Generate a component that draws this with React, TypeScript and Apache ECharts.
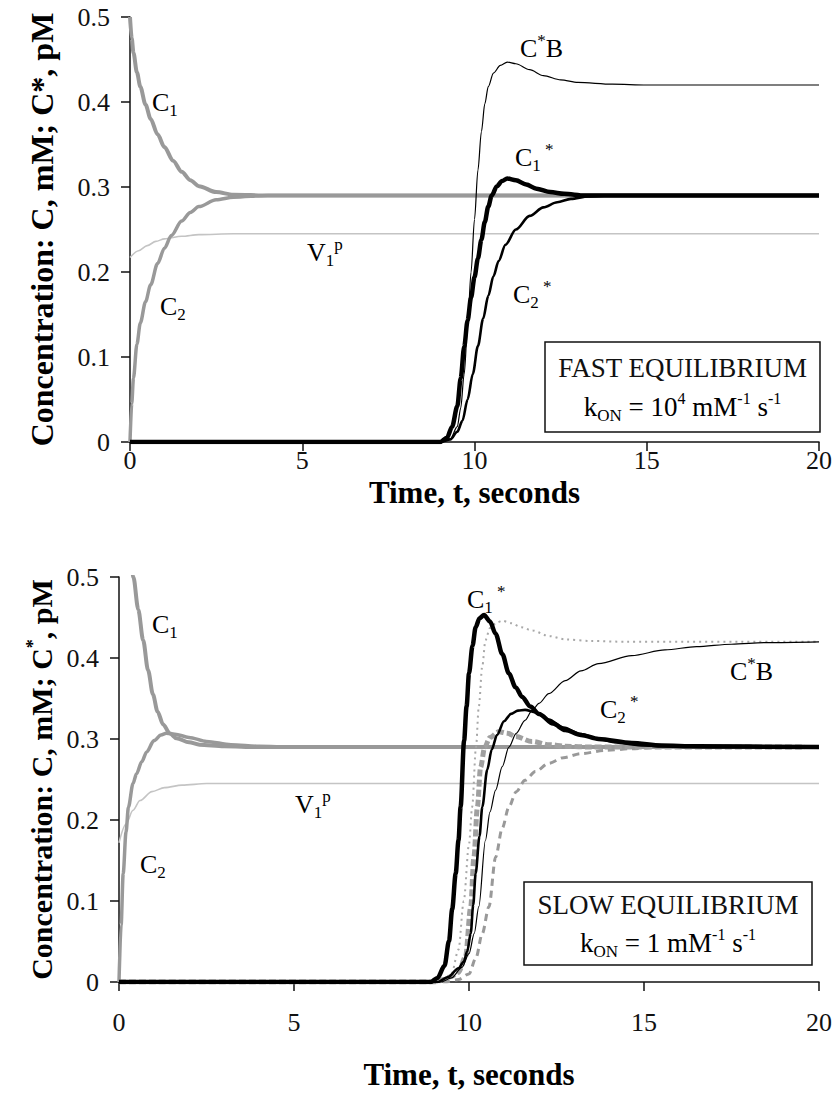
import React, { useEffect, useRef } from "react";
import * as echarts from "echarts";

const FONT = '"Liberation Serif", "Times New Roman", serif';

// ---------- Tick values ----------
const xTicks = { min: 0, max: 20, interval: 5 };
const yTicks = { min: 0, max: 0.5, interval: 0.1 };

// ---------- FAST EQUILIBRIUM (top) [t, value] ----------
const fastC1 = [[0,0.5],[0.05,0.475],[0.1,0.458],[0.2,0.435],[0.3,0.418],[0.45,0.397],[0.6,0.38],[0.8,0.362],[1.0,0.347],[1.25,0.331],[1.5,0.318],[1.75,0.308],[2.0,0.301],[2.5,0.294],[3,0.291],[4,0.29],[20,0.29]];
const fastC2 = [[0,0],[0.05,0.045],[0.1,0.075],[0.2,0.115],[0.3,0.14],[0.45,0.165],[0.6,0.185],[0.8,0.21],[1.0,0.228],[1.2,0.243],[1.5,0.26],[1.75,0.27],[2.0,0.277],[2.5,0.285],[3,0.288],[4,0.29],[20,0.29]];
const fastV1p = [[0,0.217],[0.25,0.225],[0.5,0.231],[0.75,0.236],[1,0.239],[1.5,0.242],[2,0.244],[3,0.245],[20,0.245]];
const fastC1Star = [[0,0],[9.0,0],[9.2,0.005],[9.35,0.018],[9.5,0.042],[9.6,0.075],[9.7,0.112],[9.8,0.143],[9.9,0.17],[10.0,0.194],[10.1,0.216],[10.2,0.238],[10.3,0.259],[10.4,0.277],[10.5,0.29],[10.65,0.301],[10.8,0.307],[10.95,0.31],[11.2,0.308],[11.5,0.303],[11.8,0.298],[12.2,0.294],[12.6,0.292],[13.2,0.29],[20,0.29]];
const fastC2Star = [[0,0],[9.0,0],[9.3,0.003],[9.5,0.012],[9.65,0.025],[9.8,0.05],[9.95,0.08],[10.1,0.113],[10.25,0.145],[10.4,0.172],[10.55,0.195],[10.7,0.213],[10.9,0.232],[11.2,0.25],[11.6,0.266],[12.0,0.276],[12.4,0.282],[12.8,0.286],[13.3,0.289],[14,0.29],[20,0.29]];
const fastCB = [[0,0],[9.0,0],[9.3,0.004],[9.5,0.018],[9.6,0.04],[9.7,0.08],[9.8,0.135],[9.9,0.2],[10.0,0.262],[10.1,0.32],[10.2,0.365],[10.3,0.398],[10.4,0.418],[10.55,0.434],[10.75,0.443],[10.95,0.447],[11.2,0.445],[11.6,0.438],[12.0,0.431],[12.5,0.426],[13.0,0.423],[14,0.421],[15,0.42],[20,0.42]];

// ---------- SLOW EQUILIBRIUM (bottom) [t, value] ----------
const slowC1 = [[0.2,0.63],[0.3,0.56],[0.41,0.5],[0.55,0.46],[0.69,0.422],[0.83,0.385],[0.97,0.355],[1.1,0.334],[1.26,0.318],[1.45,0.307],[1.64,0.301],[2.0,0.296],[2.3,0.293],[3,0.291],[4,0.29],[19.6,0.29]];
const slowC2 = [[0,0],[0.06,0.07],[0.12,0.134],[0.2,0.185],[0.27,0.216],[0.4,0.245],[0.5,0.257],[0.65,0.272],[0.79,0.284],[1.0,0.298],[1.2,0.305],[1.35,0.307],[1.6,0.306],[2.0,0.302],[2.5,0.297],[3.2,0.293],[4,0.291],[5,0.29],[19.6,0.29]];
const slowV1p = [[0,0.172],[0.2,0.195],[0.4,0.212],[0.6,0.224],[0.94,0.235],[1.3,0.24],[1.8,0.243],[2.5,0.245],[20,0.245]];
const slowC1Star = [[0,0],[8.9,0],[9.1,0.005],[9.3,0.02],[9.43,0.051],[9.52,0.09],[9.62,0.134],[9.7,0.175],[9.76,0.216],[9.86,0.298],[9.93,0.34],[10.0,0.381],[10.1,0.415],[10.19,0.438],[10.3,0.449],[10.43,0.453],[10.6,0.445],[10.76,0.43],[10.95,0.405],[11.14,0.381],[11.33,0.364],[11.52,0.352],[11.75,0.34],[12.0,0.331],[12.4,0.319],[12.75,0.311],[13.2,0.305],[13.7,0.3],[14.65,0.295],[15.5,0.292],[16.5,0.291],[20,0.29]];
const slowC2Star = [[0,0],[9.1,0],[9.4,0.006],[9.7,0.017],[9.85,0.025],[9.95,0.038],[10.05,0.06],[10.12,0.095],[10.19,0.134],[10.3,0.18],[10.38,0.216],[10.52,0.262],[10.65,0.287],[10.8,0.305],[11.0,0.322],[11.2,0.331],[11.4,0.335],[11.6,0.336],[11.9,0.333],[12.28,0.324],[12.7,0.314],[13.2,0.306],[13.7,0.3],[14.2,0.296],[15.0,0.292],[15.6,0.291],[17,0.29],[20,0.29]];
const slowCB = [[0,0],[9.2,0],[9.5,0.005],[9.8,0.018],[10.0,0.035],[10.15,0.06],[10.28,0.093],[10.47,0.175],[10.6,0.21],[10.76,0.237],[10.95,0.266],[11.14,0.29],[11.35,0.307],[11.6,0.323],[11.8,0.335],[12.0,0.344],[12.28,0.356],[12.75,0.372],[13.2,0.384],[13.7,0.393],[14.65,0.403],[15.6,0.41],[16.5,0.414],[17.5,0.417],[18.5,0.419],[20,0.42]];
// fast-equilibrium reference curves redrawn in grey on the slow panel
const refC1Star = [[0,0],[9.0,0],[9.3,0.003],[9.5,0.007],[9.7,0.012],[9.9,0.031],[10.05,0.093],[10.14,0.154],[10.24,0.216],[10.33,0.265],[10.45,0.29],[10.6,0.302],[10.85,0.309],[11.1,0.307],[11.33,0.303],[11.8,0.297],[12.3,0.293],[12.75,0.291],[13.5,0.29],[19.6,0.29]];
const refC2Star = [[0,0],[9.3,0],[9.7,0.003],[10.0,0.01],[10.2,0.03],[10.38,0.06],[10.57,0.093],[10.76,0.154],[10.95,0.19],[11.14,0.216],[11.35,0.235],[11.6,0.249],[11.9,0.26],[12.28,0.27],[12.7,0.277],[13.2,0.282],[13.9,0.286],[14.65,0.288],[15.5,0.29],[19.6,0.29]];
const refCB = [[0,0],[9.2,0],[9.5,0.01],[9.7,0.04],[9.85,0.1],[10.0,0.17],[10.09,0.216],[10.2,0.29],[10.28,0.34],[10.38,0.39],[10.47,0.422],[10.6,0.437],[10.8,0.444],[10.95,0.446],[11.2,0.443],[11.5,0.438],[11.8,0.434],[12.3,0.427],[12.75,0.423],[13.5,0.421],[14.5,0.42],[20,0.42]];

// ---------- Texts ----------
const xTitle = "Time, t, seconds";
const yTitleTop = "Concentration: C, mM; C*, pM";
const yTitleBottom = "{b|Concentration: C, mM; C}{s|*}{b|, pM}";
const boxTop = ["FAST EQUILIBRIUM", "{m|k}{sub|ON}{m| = 10}{sup|4}{m| mM}{sup|-1}{m| s}{sup|-1}"];
const boxBottom = ["SLOW EQUILIBRIUM", "{m|k}{sub|ON}{m| = 1 mM}{sup|-1}{m| s}{sup|-1}"];

const GRAY = "#999999";
const LIGHT = "#c4c4c4";

export default function App() {
  const ref = useRef<HTMLDivElement>(null);
  useEffect(() => {
    const chart = echarts.init(ref.current!, null, { renderer: "svg" });

    const grids = [
      { left: 130, top: 17, width: 691, height: 425 },
      { left: 119, top: 577, width: 703, height: 405 },
    ];

    const axisLine = { show: true, lineStyle: { color: "#111", width: 1.5 } };
    const axisTick = { show: true, length: 9, lineStyle: { color: "#111", width: 1.5 } };
    const tickFont = { fontFamily: FONT, fontSize: 26, color: "#111" };

    const xAxis = [0, 1].map((i) => ({
      type: "value",
      gridIndex: i,
      ...xTicks,
      axisLine,
      axisTick,
      splitLine: { show: false },
      axisLabel: { ...tickFont, lineHeight: 20, margin: i === 0 ? 8 : 30 },
      name: xTitle,
      nameLocation: "middle",
      nameGap: i === 0 ? 38 : 80,
      nameMoveOverlap: false,
      nameTextStyle: { fontFamily: FONT, fontSize: 31, lineHeight: 24, fontWeight: "bold", color: "#000" },
    }));

    const yAxis = [0, 1].map((i) => ({
      type: "value",
      gridIndex: i,
      ...yTicks,
      axisLine,
      axisTick,
      splitLine: { show: false },
      axisLabel: { ...tickFont, margin: 20 },
      name: i === 0 ? yTitleTop : yTitleBottom,
      nameLocation: "middle",
      nameRotate: 90,
      nameGap: i === 0 ? 72 : 61,
      nameMoveOverlap: false,
      nameTextStyle: {
        fontFamily: FONT,
        fontSize: i === 0 ? 32 : 30,
        fontWeight: "bold",
        color: "#000",
        rich: {
          b: { fontFamily: FONT, fontSize: 30, fontWeight: "bold", color: "#000", lineHeight: 34 },
          s: { fontFamily: FONT, fontSize: 18, fontWeight: "bold", color: "#000", verticalAlign: "top", lineHeight: 18 },
        },
      },
    }));

    const line = (
      data: number[][],
      idx: number,
      color: string,
      width: number,
      type: any = "solid",
      z = 2
    ) => ({
      type: "line",
      xAxisIndex: idx,
      yAxisIndex: idx,
      data,
      showSymbol: false,
      symbol: "none",
      smooth: 0.3,
      smoothMonotone: "x",
      clip: true,
      z,
      lineStyle: { color, width, type, cap: "butt" },
      silent: true,
    });

    const series = [
      // top
      line(fastV1p, 0, LIGHT, 1.6),
      line(fastC2, 0, GRAY, 3.5),
      line(fastC1, 0, GRAY, 4),
      line(fastCB, 0, "#000", 1.2, "solid", 3),
      line(fastC2Star, 0, "#000", 2.6, "solid", 3),
      line(fastC1Star, 0, "#000", 4.5, "solid", 4),
      // bottom
      line(slowV1p, 1, LIGHT, 1.6),
      line(slowC2, 1, GRAY, 3.5),
      line(slowC1, 1, GRAY, 4),
      line(refC2Star, 1, GRAY, 3, [7, 5]),
      line(refC1Star, 1, "#a0a0a0", 5, [7, 3]),
      line(refCB, 1, "#a8a8a8", 2, [2, 4]),
      line(slowCB, 1, "#000", 1.2, "solid", 3),
      line(slowC2Star, 1, "#000", 2.6, "solid", 3),
      line(slowC1Star, 1, "#000", 4.5, "solid", 4),
    ];

    const rich = {
      m: { fontFamily: FONT, fontSize: 26, color: "#111", lineHeight: 33, verticalAlign: "middle" },
      sub: { fontFamily: FONT, fontSize: 17, color: "#111", lineHeight: 17, verticalAlign: "bottom" },
      sup: { fontFamily: FONT, fontSize: 17, color: "#111", lineHeight: 17, verticalAlign: "top" },
    };
    const label = (text: string, x: number, y: number) => ({
      type: "text",
      x,
      y,
      z: 20,
      style: { text, rich, align: "left", verticalAlign: "middle" },
    });

    const boxRich = {
      m: { fontFamily: FONT, fontSize: 27, color: "#111", lineHeight: 34, verticalAlign: "middle" },
      sub: { fontFamily: FONT, fontSize: 17, color: "#111", lineHeight: 17, verticalAlign: "bottom" },
      sup: { fontFamily: FONT, fontSize: 16, color: "#111", lineHeight: 16, verticalAlign: "top" },
    };
    const box = (lines: string[], x: number, y: number, w: number, h: number, y1: number, y2: number) => ({
      type: "group",
      z: 20,
      children: [
        { type: "rect", shape: { x, y, width: w, height: h }, style: { fill: "#fff", stroke: "#111", lineWidth: 1.5 } },
        {
          type: "text",
          x: x + w / 2,
          y: y1,
          style: { text: lines[0], fontFamily: FONT, fontSize: 27, fill: "#111", align: "center", verticalAlign: "middle" },
        },
        {
          type: "text",
          x: x + w / 2,
          y: y2,
          style: { text: lines[1], rich: boxRich, align: "center", verticalAlign: "middle" },
        },
      ],
    });

    const graphic = [
      label("{m|C}{sub|1}", 152, 102),
      label("{m|C}{sub|2}", 160, 306),
      label("{m|V}{sub|1}{sup|p}", 307, 252),
      label("{m|C}{sup|*}{m|B}", 520, 48),
      label("{m|C}{sub|1}{sup| *}", 515, 157),
      label("{m|C}{sub|2}{sup| *}", 513, 294),
      label("{m|C}{sub|1}", 152, 624),
      label("{m|C}{sub|2}", 140, 864),
      label("{m|V}{sub|1}{sup|p}", 295, 804),
      label("{m|C}{sub|1}{sup| *}", 467, 599),
      label("{m|C}{sup|*}{m|B}", 730, 671),
      label("{m|C}{sub|2}{sup| *}", 600, 709),
      box(boxTop, 545, 342, 275, 90, 368, 407),
      box(boxBottom, 524, 882, 288, 83, 905, 943),
    ];

    chart.setOption({
      animation: false,
      backgroundColor: "#fff",
      grid: grids,
      xAxis,
      yAxis,
      series,
      graphic,
    } as any);

    return () => chart.dispose();
  }, []);

  return (
    <div
      ref={ref}
      style={{ position: "absolute", left: 0, top: 0, width: 835, height: 1097, background: "#fff" }}
    />
  );
}
